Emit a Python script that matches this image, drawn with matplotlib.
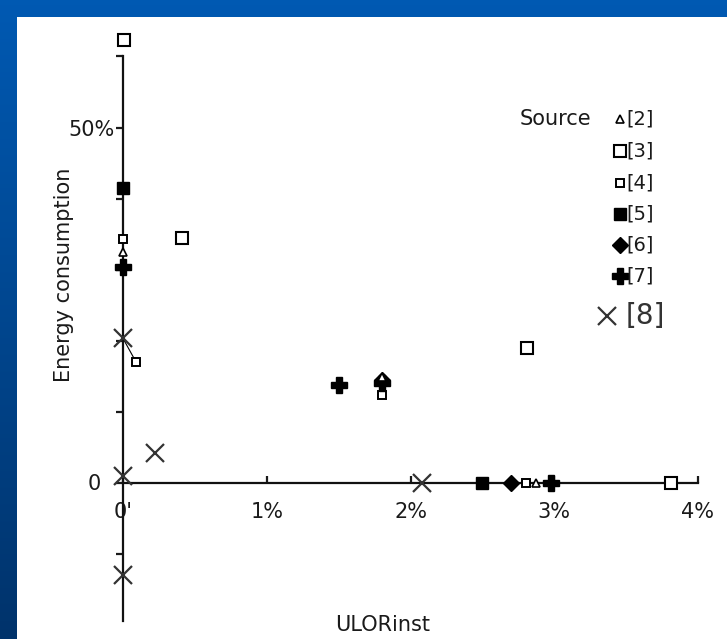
import numpy as np
import matplotlib
matplotlib.use('Agg')
import matplotlib.pyplot as plt
from matplotlib.transforms import ScaledTranslation

# values (x: ULORinst %, y: energy consumption %)
src2_x = [0.0, 1.80, 2.87]
src2_y = [32.5, 14.9, 0.0]
src3_x = [0.01, 0.41, 2.81, 3.81]
src3_y = [62.3, 34.4, 18.9, 0.0]
src4_x = [0.0, 0.09, 1.80, 2.80]
src4_y = [34.3, 17.0, 12.3, 0.0]
src5_x = [0.0, 2.50]
src5_y = [41.5, 0.0]
src6_x = [1.80, 2.70]
src6_y = [14.4, 0.0]
src7_x = [0.0, 1.50, 1.80, 2.98]
src7_y = [30.3, 13.8, 14.0, 0.0]
src8_x = [0.0, 0.22, 0.0, 2.08, 0.0]
src8_y = [20.3, 4.1, 0.9, 0.0, -13.0]

x_ticks = [0, 1, 2, 3, 4]
x_ticklabels = ["0'", '1%', '2%', '3%', '4%']
y_ticks = [-10, 0, 10, 20, 30, 40, 50, 60]
y_ticklabels = ['', '0', '', '', '', '', '50%', '']

W, H = 727, 639
plt.rcParams['font.family'] = ['DejaVu Sans']
TXT = '#1a1a1a'

fig = plt.figure(figsize=(W / 100, H / 100), dpi=100)

# blue gradient background
bg = fig.add_axes([0, 0, 1, 1])
grad = np.linspace(0, 1, 256).reshape(-1, 1)
top = np.array([0.0, 0.35, 0.70])
bot = np.array([0.0, 0.20, 0.42])
img = top + (bot - top) * grad[:, :, None]
bg.imshow(img, aspect='auto', extent=[0, 1, 0, 1])
bg.set_axis_off()

# white panel = main axes
ax = fig.add_axes([17 / W, 0, (W - 17) / W, (H - 17) / H])
ax.set_facecolor('white')
ax.set_xlim((17 - 123) / 143.75, (727 - 123) / 143.75)
ax.set_ylim((482.5 - 639) / 7.1, (482.5 - 17) / 7.1)

for s in ['top', 'right']:
    ax.spines[s].set_visible(False)
ax.spines['left'].set_position(('data', 0))
ax.spines['bottom'].set_position(('data', 0))
ax.spines['left'].set_bounds(-19.5, 60)
ax.spines['bottom'].set_bounds(0, 4)
for s in ['left', 'bottom']:
    ax.spines[s].set_linewidth(1.6)
    ax.spines[s].set_color('#111111')

ax.set_xticks(x_ticks)
ax.set_xticklabels(x_ticklabels)
ax.set_yticks(y_ticks)
ax.set_yticklabels(y_ticklabels)
ax.tick_params(axis='x', direction='in', length=5, width=1.6, pad=14,
               labelsize=15, colors=TXT)
ax.tick_params(axis='y', direction='out', length=5, width=1.6, pad=1,
               labelsize=15, colors=TXT)
# the "0" label sits further left than "50%"
zero_lbl = ax.get_yticklabels()[1]
zero_lbl.set_transform(zero_lbl.get_transform() +
                       ScaledTranslation(-0.14, 0, fig.dpi_scale_trans))

# leader line from the X to its small marker
ax.plot([src8_x[0], src4_x[1]], [src8_y[0], src4_y[1]], color='black', lw=0.8, zorder=3)

ax.plot(src8_x, src8_y, ls='none', marker='x', ms=13, mew=1.6, color='#333333', zorder=4)
ax.plot(src3_x, src3_y, ls='none', marker='s', ms=8, mfc='white', mec='black', mew=1.5, zorder=5)
ax.plot(src4_x, src4_y, ls='none', marker='s', ms=6, mfc='white', mec='black', mew=1.4, zorder=5)
ax.plot(src5_x, src5_y, ls='none', marker='s', ms=8, color='black', zorder=5)
ax.plot(src7_x, src7_y, ls='none', marker='P', ms=12, color='black', zorder=5)
ax.plot(src6_x, src6_y, ls='none', marker='D', ms=8.5, color='black', zorder=6)
ax.plot(src2_x, src2_y, ls='none', marker='^', ms=5.5, mfc='white', mec='black', mew=1.2, zorder=6)


def pxa(x, y):
    # pixel position in the picture -> axes fraction
    return (x - 17) / (W - 17), (H - y) / (H - 17)


# legend drawn by hand
ax.text(*pxa(591, 119), 'Source', transform=ax.transAxes, ha='right', va='center',
        fontsize=15, color=TXT)
legend_rows = [
    ('[2]', dict(marker='^', ms=5.5, mfc='white', mec='black', mew=1.2), 119),
    ('[3]', dict(marker='s', ms=8, mfc='white', mec='black', mew=1.5), 151),
    ('[4]', dict(marker='s', ms=6, mfc='white', mec='black', mew=1.4), 183),
    ('[5]', dict(marker='s', ms=8, color='black'), 214),
    ('[6]', dict(marker='D', ms=8.5, color='black'), 245),
    ('[7]', dict(marker='P', ms=12, color='black'), 276),
]
for lab, style, yy in legend_rows:
    ax.plot(*pxa(620, yy), transform=ax.transAxes, ls='none', clip_on=False, **style)
    ax.text(*pxa(626, yy), lab, transform=ax.transAxes, ha='left', va='center',
            fontsize=14, color=TXT)
ax.plot(*pxa(607, 316), transform=ax.transAxes, ls='none', marker='x', ms=13,
        mew=1.6, color='#333333')
ax.text(*pxa(626, 316), '[8]', transform=ax.transAxes, ha='left', va='center',
        fontsize=20, color='#333333')

ax.text(*pxa(64, 275), 'Energy consumption', transform=ax.transAxes, rotation=90,
        ha='center', va='center', fontsize=15, color=TXT)
ax.text(*pxa(383, 625), 'ULORinst', transform=ax.transAxes, ha='center', va='center',
        fontsize=15, color=TXT)

fig.savefig('out.png', dpi=100)
